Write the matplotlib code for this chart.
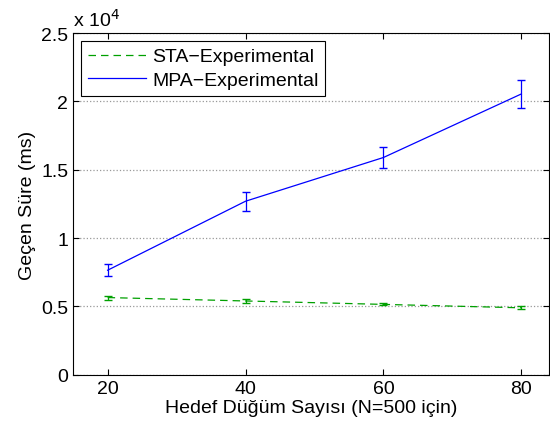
import matplotlib
matplotlib.use("Agg")
import matplotlib.pyplot as plt
from matplotlib.lines import Line2D

nodes = [20, 40, 60, 80]
sta_mean = [5650, 5400, 5150, 4900]
sta_err = [150, 120, 80, 100]
mpa_mean = [7650, 12700, 15900, 20550]
mpa_err = [450, 700, 800, 1050]

plt.rcParams['font.family'] = ['Liberation Sans', 'DejaVu Sans']
plt.rcParams['font.size'] = 14

fig = plt.figure(figsize=(5.5, 4.27), dpi=100)
ax = fig.add_axes([0.133, 0.12, 0.865, 0.80])

dash = (0, (6, 4))
ax.errorbar(nodes, sta_mean, yerr=sta_err, color='#00a000', linestyle=dash,
            linewidth=0.9, capsize=3, elinewidth=0.9)
ax.errorbar(nodes, mpa_mean, yerr=mpa_err, color='#0000ff', linestyle='-',
            linewidth=0.9, capsize=3, elinewidth=0.9)

ax.set_xlim(15, 84)
ax.set_ylim(0, 25000)
ax.set_xticks(nodes)
ax.set_yticks([0, 5000, 10000, 15000, 20000, 25000])
ax.set_yticklabels(['0', '0.5', '1', '1.5', '2', '2.5'])
ax.text(0.0, 1.01, 'x 10$^{4}$', transform=ax.transAxes, fontsize=14, ha='left', va='bottom')
ax.yaxis.grid(True, linestyle=':', color='#999999', linewidth=0.9)
ax.tick_params(direction='in', top=True, right=True, length=4)

ax.set_xlabel('Hedef Düğüm Sayısı (N=500 için)', labelpad=2)
ax.set_ylabel('Geçen Süre (ms)')

handles = [Line2D([], [], color='#00a000', linestyle=dash, linewidth=0.9),
           Line2D([], [], color='#0000ff', linestyle='-', linewidth=0.9)]
labels = ['STA\u2212Experimental', 'MPA\u2212Experimental']
leg = ax.legend(handles, labels, loc='upper left', fancybox=False, edgecolor='black',
                framealpha=1, handlelength=3.0, handletextpad=0.3,
                borderaxespad=0.4, borderpad=0.35, labelspacing=0.3)
leg.get_frame().set_linewidth(0.8)

fig.savefig('out.png', dpi=100)
